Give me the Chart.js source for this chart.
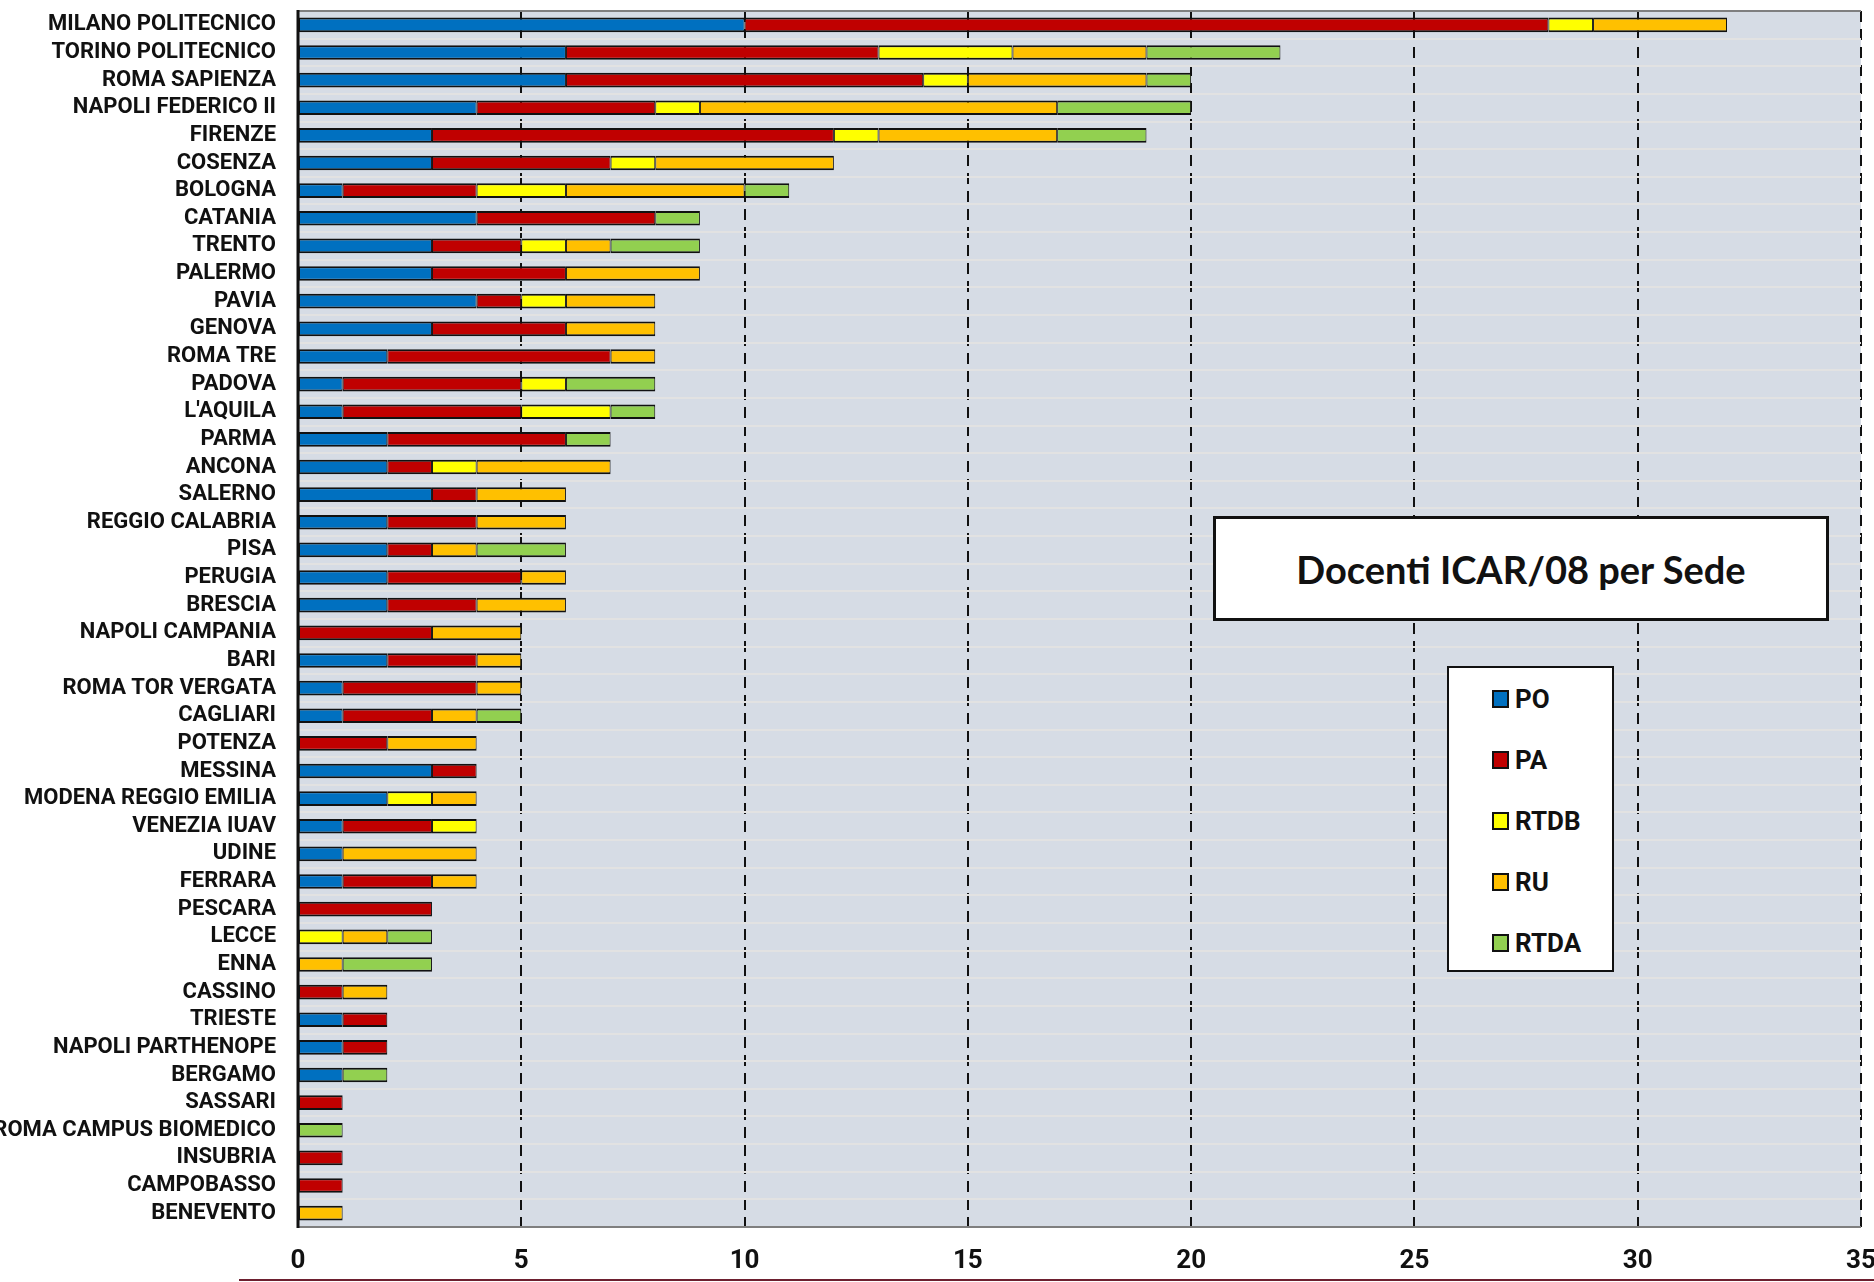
<!DOCTYPE html>
<html>
<head>
<meta charset="utf-8">
<title>Docenti ICAR/08 per Sede</title>
<script src="https://cdn.jsdelivr.net/npm/chart.js@4.4.1/dist/chart.umd.min.js"></script>
<style>
    body { margin: 0; background: #fff; }
    #wrap { position: relative; width: 1874px; height: 1282px; overflow: hidden; }
    #titleBox {
        position: absolute; left: 1213px; top: 516px; width: 616px; height: 105px;
        box-sizing: border-box; border: 3px solid #111; background: #fff;
        display: flex; align-items: center; justify-content: center;
        font-family: Lato, "Open Sans", sans-serif; font-weight: bold; font-size: 38px; color: #111;
    }
    #legendBox {
        position: absolute; left: 1447px; top: 666px; width: 167px; height: 306px;
        box-sizing: border-box; border: 2px solid #111; background: #fff;
    }
    .legItem {
        position: absolute; left: 43px; height: 34px; display: flex; align-items: center;
        font-family: Roboto, sans-serif; font-weight: bold; font-size: 26px; color: #111;
    }
    .legItem span.sw {
        display: inline-block; width: 17px; height: 18px; box-sizing: border-box;
        border: 2px solid #111; margin-right: 6px;
    }
    #bottomLine { position: absolute; left: 239px; top: 1279px; width: 1635px; height: 2px; background: #6d1f2f; }
</style>
</head>
<body>
<div id="wrap">
    <canvas id="myChart" width="1874" height="1282"></canvas>
    <div id="titleBox">Docenti ICAR/08 per Sede</div>
    <div id="legendBox"></div>
    <div id="bottomLine"></div>
</div>
<script>
const categories = [
    "MILANO POLITECNICO", "TORINO POLITECNICO", "ROMA SAPIENZA", "NAPOLI FEDERICO II", "FIRENZE",
    "COSENZA", "BOLOGNA", "CATANIA", "TRENTO", "PALERMO", "PAVIA", "GENOVA", "ROMA TRE", "PADOVA",
    "L'AQUILA", "PARMA", "ANCONA", "SALERNO", "REGGIO CALABRIA", "PISA", "PERUGIA", "BRESCIA",
    "NAPOLI CAMPANIA", "BARI", "ROMA TOR VERGATA", "CAGLIARI", "POTENZA", "MESSINA",
    "MODENA REGGIO EMILIA", "VENEZIA IUAV", "UDINE", "FERRARA", "PESCARA", "LECCE", "ENNA",
    "CASSINO", "TRIESTE", "NAPOLI PARTHENOPE", "BERGAMO", "SASSARI", "ROMA CAMPUS BIOMEDICO",
    "INSUBRIA", "CAMPOBASSO", "BENEVENTO"
];

// one value per sede, same order as categories
const po   = [10, 6, 6, 4, 3, 3, 1, 4, 3, 3, 4, 3, 2, 1, 1, 2, 2, 3, 2, 2, 2, 2, 0, 2, 1, 1, 0, 3, 2, 1, 1, 1, 0, 0, 0, 0, 1, 1, 1, 0, 0, 0, 0, 0];
const pa   = [18, 7, 8, 4, 9, 4, 3, 4, 2, 3, 1, 3, 5, 4, 4, 4, 1, 1, 2, 1, 3, 2, 3, 2, 3, 2, 2, 1, 0, 2, 0, 2, 3, 0, 0, 1, 1, 1, 0, 1, 0, 1, 1, 0];
const rtdb = [1, 3, 1, 1, 1, 1, 2, 0, 1, 0, 1, 0, 0, 1, 2, 0, 1, 0, 0, 0, 0, 0, 0, 0, 0, 0, 0, 0, 1, 1, 0, 0, 0, 1, 0, 0, 0, 0, 0, 0, 0, 0, 0, 0];
const ru   = [3, 3, 4, 8, 4, 4, 4, 0, 1, 3, 2, 2, 1, 0, 0, 0, 3, 2, 2, 1, 1, 2, 2, 1, 1, 1, 2, 0, 1, 0, 3, 1, 0, 1, 1, 1, 0, 0, 0, 0, 0, 0, 0, 1];
const rtda = [0, 3, 1, 3, 2, 0, 1, 1, 2, 0, 0, 0, 0, 2, 1, 1, 0, 0, 0, 2, 0, 0, 0, 0, 0, 1, 0, 0, 0, 0, 0, 0, 0, 1, 2, 0, 0, 0, 1, 0, 1, 0, 0, 0];

const seriesNames = ["PO", "PA", "RTDB", "RU", "RTDA"];
const seriesValues = [po, pa, rtdb, ru, rtda];
const seriesColors = ["#0070C0", "#C00000", "#FFFF00", "#FFC000", "#92D050"];

const xTicks = [0, 5, 10, 15, 20, 25, 30, 35];

const labelFont = "Roboto, 'Liberation Sans', sans-serif";

function buildDatasets() {
    return seriesNames.map((name, i) => ({
        label: name,
        // empty segments left out so no zero-width outline is drawn
        data: seriesValues[i].map(v => (v === 0 ? null : v)),
        backgroundColor: seriesColors[i],
        borderColor: "#111",
        borderWidth: { top: 2, bottom: 2, left: 1, right: 1 },
        borderSkipped: false,
        barPercentage: 0.53,
        categoryPercentage: 1.0
    }));
}

function buildLegend() {
    const box = document.getElementById("legendBox");
    seriesNames.forEach((name, i) => {
        const item = document.createElement("div");
        item.className = "legItem";
        item.style.top = `${14 + i * 61}px`;
        item.innerHTML = `<span class="sw" style="background:${seriesColors[i]}"></span>${name}`;
        box.appendChild(item);
    });
}

// light blue-grey fill behind the plot, grey top/bottom edges, black left axis
const plotFrame = {
    id: "plotFrame",
    beforeDraw(chart) {
        const { ctx, chartArea: a } = chart;
        ctx.save();
        ctx.fillStyle = "#D6DCE5";
        ctx.fillRect(a.left, a.top, a.right - a.left, a.bottom - a.top);
        ctx.restore();
    },
    afterDraw(chart) {
        const { ctx, chartArea: a } = chart;
        ctx.save();
        ctx.strokeStyle = "#7f7f7f";
        ctx.lineWidth = 2;
        ctx.beginPath();
        ctx.moveTo(a.left, a.top);
        ctx.lineTo(a.right, a.top);
        ctx.moveTo(a.left, a.bottom);
        ctx.lineTo(a.right, a.bottom);
        ctx.stroke();
        ctx.strokeStyle = "#111";
        ctx.lineWidth = 3;
        ctx.beginPath();
        ctx.moveTo(a.left, a.top - 1);
        ctx.lineTo(a.left, a.bottom + 1);
        ctx.stroke();
        ctx.restore();
    }
};

function createChart() {
    const ctx = document.getElementById("myChart").getContext("2d");
    return new Chart(ctx, {
        type: "bar",
        data: { labels: categories, datasets: buildDatasets() },
        options: {
            indexAxis: "y",
            responsive: false,
            animation: false,
            layout: { padding: { top: 11, right: 13, bottom: 0, left: 0 } },
            plugins: {
                legend: { display: false },
                title: { display: false },
                tooltip: { enabled: false }
            },
            scales: {
                x: {
                    type: "linear",
                    stacked: true,
                    min: 0,
                    max: 35,
                    afterBuildTicks: scale => { scale.ticks = xTicks.map(v => ({ value: v })); },
                    afterFit: scale => {
                        scale.height = 55;
                        scale.paddingLeft = 0;
                        scale.paddingRight = 0;
                    },
                    ticks: {
                        color: "#111",
                        padding: 19,
                        font: { family: labelFont, size: 26, weight: "bold" }
                    },
                    grid: {
                        drawTicks: false,
                        lineWidth: 2,
                        color: c => (c.tick && c.tick.value === 0 ? "rgba(0,0,0,0)" : "#111")
                    },
                    border: { display: false, dash: [11, 7] }
                },
                y: {
                    type: "category",
                    stacked: true,
                    afterFit: scale => {
                        scale.width = 298;
                        scale.paddingTop = 0;
                        scale.paddingBottom = 0;
                    },
                    ticks: {
                        color: "#111",
                        padding: 22,
                        autoSkip: false,
                        font: { family: labelFont, size: 22, weight: "bold" }
                    },
                    grid: { drawTicks: false, offset: true, lineWidth: 2, color: "#E2E2E2" },
                    border: { display: false }
                }
            }
        },
        plugins: [plotFrame]
    });
}

window.onload = function () {
    buildLegend();
    createChart();
};
</script>
</body>
</html>
